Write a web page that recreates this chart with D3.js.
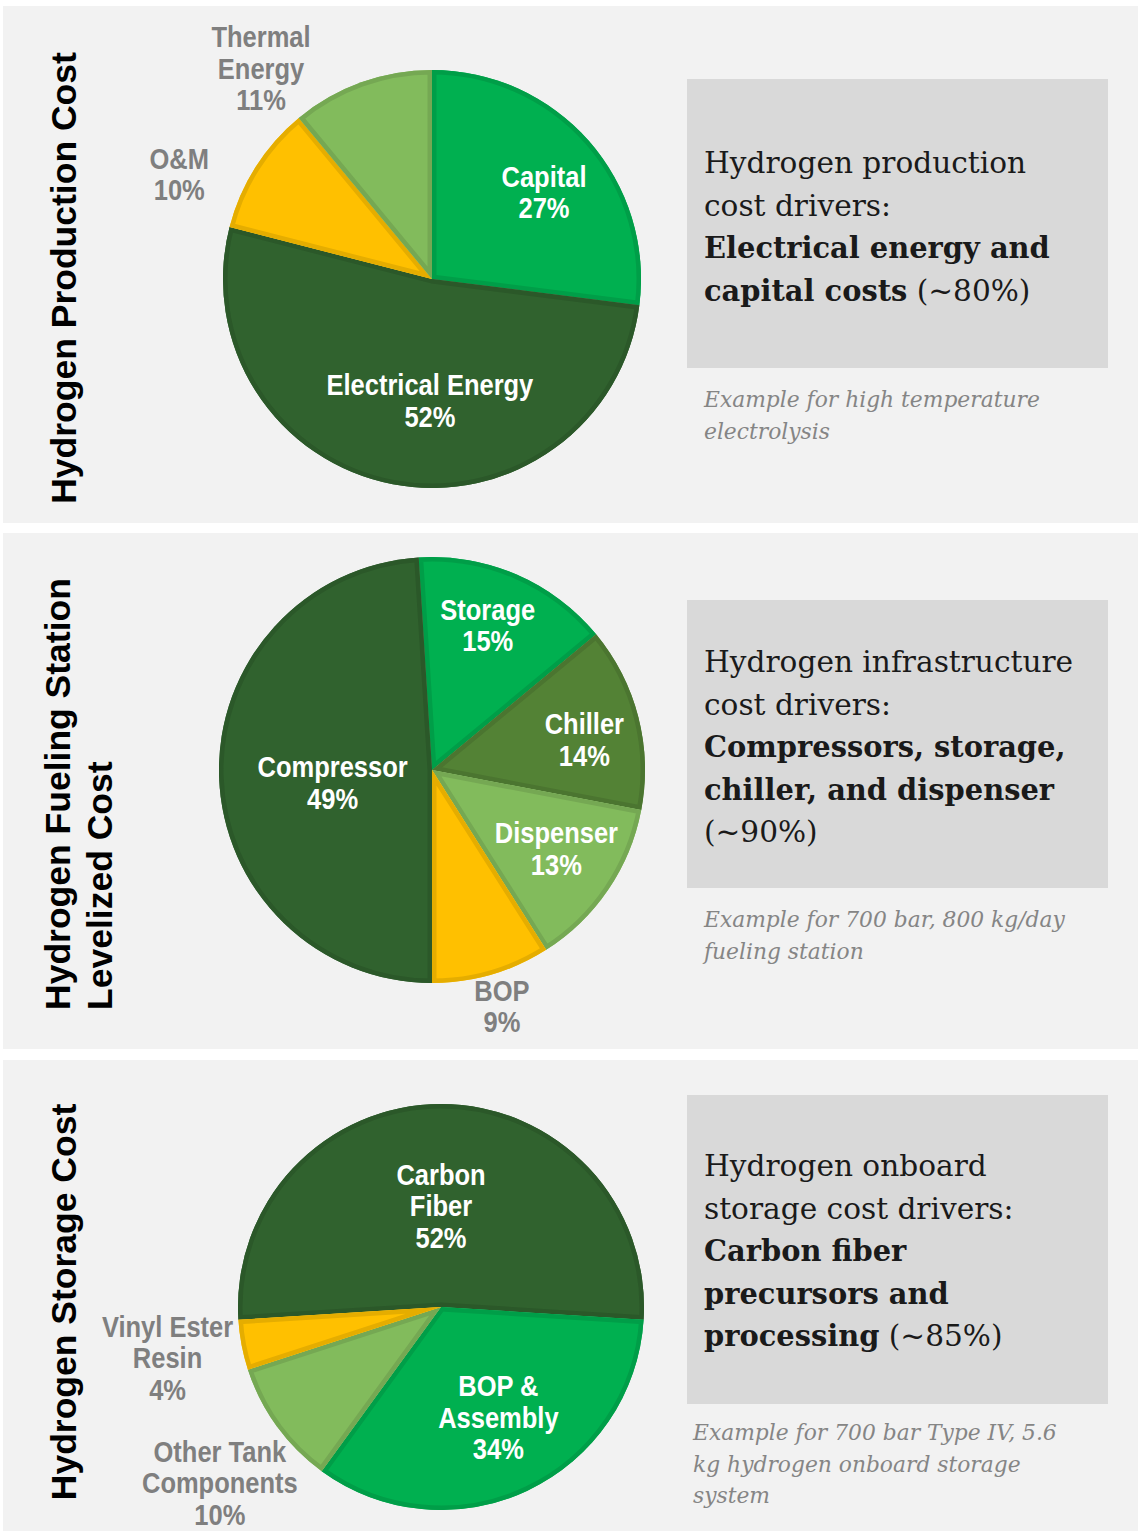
<!DOCTYPE html>
<html>
<head>
<meta charset="utf-8">
<script src="https://cdn.jsdelivr.net/npm/d3@7"></script>
<style>
  html, body { margin: 0; padding: 0; background: #ffffff; }
  svg { display: block; }
</style>
</head>
<body>
<svg id="chart" width="1138" height="1531"></svg>
<script>
// ---------------- DATA ----------------
// Panel 1: Hydrogen Production Cost
const prodCategories = ["Capital", "Electrical Energy", "O&M", "Thermal Energy"];
const prodValues = [27, 52, 10, 11];
const prodLabelLines = [["Capital"], ["Electrical Energy"], ["O&M"], ["Thermal", "Energy"]];

// Panel 2: Hydrogen Fueling Station Levelized Cost
const stationCategories = ["Storage", "Chiller", "Dispenser", "BOP", "Compressor"];
const stationValues = [15, 14, 13, 9, 49];
const stationLabelLines = [["Storage"], ["Chiller"], ["Dispenser"], ["BOP"], ["Compressor"]];

// Panel 3: Hydrogen Storage Cost
const storageCategories = ["Carbon Fiber", "BOP & Assembly", "Other Tank Components", "Vinyl Ester Resin"];
const storageValues = [52, 34, 10, 4];
const storageLabelLines = [["Carbon", "Fiber"], ["BOP &", "Assembly"], ["Other Tank", "Components"], ["Vinyl Ester", "Resin"]];

// Titles and text boxes
const panelTitles = [["Hydrogen Production Cost"], ["Hydrogen Fueling Station", "Levelized Cost"], ["Hydrogen Storage Cost"]];
const boxTexts = [
  [[["Hydrogen production", "r"]], [["cost drivers:", "r"]], [["Electrical energy and", "b"]], [["capital costs", "b"], [" (~80%)", "r"]]],
  [[["Hydrogen infrastructure", "r"]], [["cost drivers:", "r"]], [["Compressors, storage,", "b"]], [["chiller, and dispenser", "b"]], [["(~90%)", "r"]]],
  [[["Hydrogen onboard", "r"]], [["storage cost drivers:", "r"]], [["Carbon fiber", "b"]], [["precursors and", "b"]], [["processing", "b"], [" (~85%)", "r"]]]
];
const noteTexts = [
  ["Example for high temperature", "electrolysis"],
  ["Example for 700 bar, 800 kg/day", "fueling station"],
  ["Example for 700 bar Type IV, 5.6", "kg hydrogen onboard storage", "system"]
];

// ---------------- STYLE / LAYOUT ----------------
const C = {
  bright: "#00b050",
  dark: "#30622e",
  yellow: "#ffc000",
  light: "#82bb5c",
  olive: "#538235"
};
const deg = Math.PI / 180;

const pies = [
  {
    cats: prodCategories, vals: prodValues, lines: prodLabelLines,
    cx: 432, cy: 279, r: 209, start: 0,
    colors: [C.bright, C.dark, C.yellow, C.light],
    lab: [{rf: 0.68, da: 3.4, inside: true}, {rf: 0.58, da: -9.8, inside: true},
          {rf: 1.31, da: -9.8, inside: false}, {rf: 1.30, da: -19.2, inside: false}]
  },
  {
    cats: stationCategories, vals: stationValues, lines: stationLabelLines,
    cx: 432, cy: 770, r: 213, start: -3.6,
    colors: [C.bright, C.olive, C.light, C.yellow, C.dark],
    lab: [{rf: 0.73, da: -2.4, inside: true}, {rf: 0.73, da: 2.9, inside: true},
          {rf: 0.69, da: -2.0, inside: true}, {rf: 1.155, da: -0.3, inside: false},
          {rf: 0.47, da: -5.1, inside: true}]
  },
  {
    cats: storageCategories, vals: storageValues, lines: storageLabelLines,
    cx: 441, cy: 1307, r: 203, start: -93.6,
    colors: [C.dark, C.bright, C.light, C.yellow],
    lab: [{rf: 0.5, da: 0, inside: true}, {rf: 0.61, da: -2.4, inside: true},
          {rf: 1.39, da: -2.4, inside: false}, {rf: 1.37, da: 0.3, inside: false}]
  }
];

const panels = [
  {y0: 6, y1: 523, titleX: [76], titleY: 278, titleAnchor: "middle",
   box: {x: 687, y: 79, w: 421, h: 289}, boxBase: 173, noteX: 704, noteBase: 407},
  {y0: 533, y1: 1049, titleX: [70, 112], titleY: 1010, titleAnchor: "start",
   box: {x: 687, y: 600, w: 421, h: 288}, boxBase: 672, noteX: 704, noteBase: 927},
  {y0: 1060, y1: 1531, titleX: [76], titleY: 1302, titleAnchor: "middle",
   box: {x: 687, y: 1095, w: 421, h: 309}, boxBase: 1176, noteX: 693, noteBase: 1440}
];

// ---------------- DRAW ----------------
const svg = d3.select("#chart");
const defs = svg.append("defs");

panels.forEach((p, i) => {
  svg.append("rect").attr("x", 3).attr("y", p.y0).attr("width", 1135).attr("height", p.y1 - p.y0)
    .attr("fill", "#f2f2f2");

  // vertical title
  const tg = svg.append("g");
  panelTitles[i].forEach((t, j) => {
    tg.append("text")
      .attr("transform", `translate(${p.titleX[j]},${p.titleY}) rotate(-90)`)
      .attr("text-anchor", p.titleAnchor)
      .attr("font-family", "'Liberation Sans', Arial, sans-serif")
      .attr("font-weight", "bold")
      .attr("font-size", 35.5)
      .attr("fill", "#000")
      .text(t);
  });

  // gray box
  svg.append("rect").attr("x", p.box.x).attr("y", p.box.y).attr("width", p.box.w).attr("height", p.box.h)
    .attr("fill", "#d9d9d9");
  boxTexts[i].forEach((line, j) => {
    const t = svg.append("text")
      .attr("x", 704).attr("y", p.boxBase + j * 42.5)
      .attr("font-family", "'DejaVu Serif', serif")
      .attr("fill", "#1a1a1a");
    line.forEach(seg => {
      t.append("tspan")
        .attr("font-weight", seg[1] === "b" ? "bold" : "normal")
        .attr("font-size", seg[1] === "b" ? 28.9 : 29.6)
        .text(seg[0]);
    });
  });
  noteTexts[i].forEach((line, j) => {
    svg.append("text")
      .attr("x", p.noteX).attr("y", p.noteBase + j * 31.5)
      .attr("font-family", "'DejaVu Serif', serif")
      .attr("font-style", "italic")
      .attr("font-size", 21.8)
      .attr("fill", "#858585")
      .text(line);
  });
});

pies.forEach((pc, pi) => {
  const pie = d3.pie().sort(null).value(d => d)
    .startAngle(pc.start * deg).endAngle(pc.start * deg + 2 * Math.PI);
  const arcs = pie(pc.vals);
  const arc = d3.arc().innerRadius(0).outerRadius(pc.r);
  const g = svg.append("g").attr("transform", `translate(${pc.cx},${pc.cy})`);

  arcs.forEach((a, k) => {
    const id = `clip-${pi}-${k}`;
    defs.append("clipPath").attr("id", id)
      .append("path").attr("d", arc(a));
    const col = pc.colors[k];
    g.append("path").attr("d", arc(a)).attr("fill", col);
    g.append("path").attr("d", arc(a))
      .attr("fill", "none")
      .attr("stroke", d3.color(col).darker(0.3))
      .attr("stroke-width", 9)
      .attr("stroke-linejoin", "round")
      .attr("clip-path", `url(#${id})`);
  });

  // labels
  arcs.forEach((a, k) => {
    const L = pc.lab[k];
    const mid = (a.startAngle + a.endAngle) / 2 + L.da * deg;
    const rr = L.rf * pc.r;
    const x = pc.cx + rr * Math.sin(mid);
    const y = pc.cy - rr * Math.cos(mid);
    const lines = pc.lines[k].concat([`${pc.vals[k]}%`]);
    const n = lines.length;
    const lg = svg.append("g").attr("transform", `translate(${x},${y}) scale(0.85,1)`);
    lines.forEach((ln, j) => {
      lg.append("text")
        .attr("x", 0)
        .attr("y", (j - (n - 1) / 2) * 31.5)
        .attr("dy", "0.36em")
        .attr("text-anchor", "middle")
        .attr("font-family", "'Liberation Sans', Arial, sans-serif")
        .attr("font-weight", "bold")
        .attr("font-size", 30)
        .attr("fill", L.inside ? "#ffffff" : "#7f7f7f")
        .text(ln);
    });
  });
});
</script>
</body>
</html>
